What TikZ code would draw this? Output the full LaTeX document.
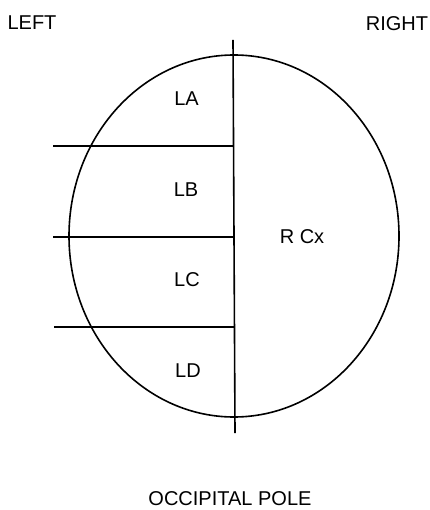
\documentclass[tikz,border=0pt]{standalone}
\usepackage{fontspec}
\setmainfont{Liberation Sans}
\begin{document}
\begin{tikzpicture}[x=1pt,y=-1pt,
  lbl/.style={font=\fontsize{20}{24}\selectfont, inner sep=0pt},
  ln/.style={line width=1.6pt, black}]
\useasboundingbox (0,0) rectangle (429,510);
\fill[white] (0,0) rectangle (429,510);
% ellipse outline
\draw[ln] (234,236) ellipse [x radius=165, y radius=181];
% midline
\coordinate (mtop) at (233,40);
\coordinate (mbot) at (235,433);
\draw[ln] (mtop) -- (mbot);
% horizontal divisions
\coordinate (h1a) at (53,146);  \coordinate (h1b) at (233,146);
\coordinate (h2a) at (53,237);  \coordinate (h2b) at (234,237);
\coordinate (h3a) at (54,327);  \coordinate (h3b) at (235,327);
\draw[ln] (h1a) -- (h1b);
\draw[ln] (h2a) -- (h2b);
\draw[ln] (h3a) -- (h3b);
% labels
\node[lbl] (left) at (32,23) {LEFT};
\node[lbl] (right) at (397,24) {RIGHT};
\node[lbl] (la) at (186.5,99) {LA};
\node[lbl] (lb) at (186,190) {LB};
\node[lbl] (lc) at (187,280) {LC};
\node[lbl] (ld) at (188,371) {LD};
\node[lbl] (rcx) at (302,237) {R Cx};
\node[lbl] (occ) at (230,499) {OCCIPITAL POLE};
\end{tikzpicture}
\end{document}
